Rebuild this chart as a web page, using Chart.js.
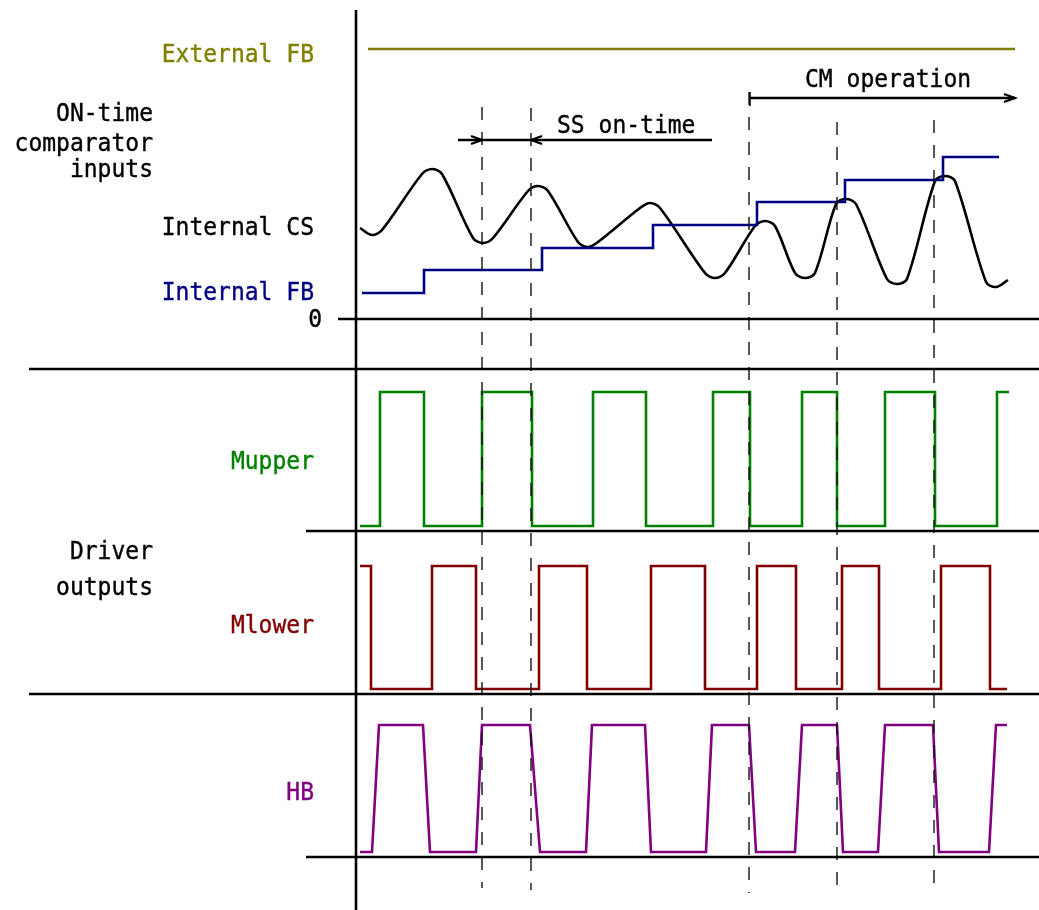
<!DOCTYPE html>
<html>
<head>
<meta charset="utf-8">
<script src="https://cdn.jsdelivr.net/npm/chart.js@4.4.0/dist/chart.umd.min.js"></script>
<style>
  html, body { margin: 0; padding: 0; background: #fff; }
  #wrap { width: 1039px; height: 910px; }
</style>
</head>
<body>
<div id="wrap"><canvas id="diagrama" width="1039" height="910"></canvas></div>
<script>
// tempo: 0 = eixo vertical do diagrama

// entradas do comparador de ON-time (altura acima da linha "0")
const externalFbTime = [12, 659];
const externalFbLevel = [270, 270];

const internalFbTime = [6, 68, 186, 297, 401, 489, 587, 643];
const internalFbLevel = [26, 49, 71, 94, 117, 139, 162, 162];

// rampa de corrente, com os ombros dos picos/vales
const internalCsTime = [4, 16, 26, 66, 76, 86, 117, 127, 137, 172, 182, 192,
  222, 232, 242, 284, 294, 304, 349, 359, 369, 399, 409, 419,
  439, 449, 459, 480, 490, 500, 531, 541, 551, 579, 589, 599, 630, 640, 652];
const internalCsLevel = [91, 84, 89, 145, 150, 145, 81, 76, 81, 128, 133, 128,
  77, 72, 77, 111, 116, 111, 46, 41, 46, 93, 98, 93,
  46, 41, 46, 115, 120, 115, 40, 35, 40, 138, 143, 138, 37, 32, 39];

// saidas do driver: instantes das bordas (nivel alterna a cada borda)
const mupperStart = [4, 0];
const mupperEdges = [24, 68, 126, 176, 237, 290, 357, 394, 446, 481, 529, 579, 641];
const mupperEnd = 653;

const mlowerStart = [4, 1];
const mlowerEdges = [15, 76, 120, 183, 231, 295, 349, 401, 440, 486, 523, 585, 634];
const mlowerEnd = 651;

// no do meio-ponte (bordas lentas)
const hbTime = [4, 16, 23, 67, 74, 120, 126, 174, 184, 230, 236, 289, 295, 350,
  356, 393, 400, 439, 446, 481, 487, 522, 529, 577, 583, 633, 640, 651];
const hbLevel = [0, 0, 1, 1, 0, 0, 1, 1, 0, 0, 1, 1, 0, 0,
  1, 1, 0, 0, 1, 1, 0, 0, 1, 1, 0, 0, 1, 1];

// linhas tracejadas verticais
const markerTimes = [126, 175, 393, 481, 578];

// setas de tempo
const ssArrow = { from: 102, to: 356, left: 126, right: 175 };
const cmArrow = { from: 394, to: 659 };

// ---- layout (unidades verticais da figura) ----
const rows = {
  analog: { base: 319, scale: 1 },
  mupper: { base: 526, scale: 134 },
  mlower: { base: 689, scale: 123 },
  hb: { base: 852, scale: 127 }
};
const markerTop = [107, 108, 92, 122, 120];
const markerBottom = [888, 890, 893, 893, 895];
const ssY = 140;
const cmY = 98;

const rotulos = [
  { text: 'External FB', t: -42, y: 62, color: '#808000' },
  { text: 'ON-time', t: -203, y: 121, color: '#000' },
  { text: 'comparator', t: -203, y: 151, color: '#000' },
  { text: 'inputs', t: -203, y: 177, color: '#000' },
  { text: 'Internal CS', t: -42, y: 235, color: '#000' },
  { text: 'Internal FB', t: -42, y: 300, color: '#000080' },
  { text: '0', t: -34, y: 327, color: '#000' },
  { text: 'SS on-time', t: 201, y: 133, color: '#000', align: 'left' },
  { text: 'CM operation', t: 449, y: 87, color: '#000', align: 'left' },
  { text: 'Mupper', t: -42, y: 469, color: '#008000' },
  { text: 'Driver', t: -203, y: 559, color: '#000' },
  { text: 'outputs', t: -203, y: 595, color: '#000' },
  { text: 'Mlower', t: -42, y: 633, color: '#800000' },
  { text: 'HB', t: -42, y: 800, color: '#800080' }
];

function nivel(row, v) {
  return rows[row].base - v * rows[row].scale;
}

function pontos(times, levels, row) {
  return times.map((t, i) => ({ x: t, y: nivel(row, levels[i]) }));
}

function degraus(start, edges, end, row) {
  let lv = start[1];
  const pts = [{ x: start[0], y: nivel(row, lv) }];
  edges.forEach(t => {
    lv = 1 - lv;
    pts.push({ x: t, y: nivel(row, lv) });
  });
  pts.push({ x: end, y: nivel(row, lv) });
  return pts;
}

const datasets = [];
function linha(points, color, width, extra) {
  datasets.push(Object.assign({
    data: points,
    borderColor: color,
    borderWidth: width,
    showLine: true,
    pointRadius: 0,
    fill: false,
    tension: 0,
    clip: false
  }, extra || {}));
}

// eixos e separadores
linha([{ x: 0, y: 10 }, { x: 0, y: 910 }], '#000', 2.6);
linha([{ x: -18, y: 319 }, { x: 683, y: 319 }], '#000', 2.6);
linha([{ x: -327, y: 369 }, { x: 683, y: 369 }], '#000', 2.6);
linha([{ x: -50, y: 531 }, { x: 683, y: 531 }], '#000', 2.6);
linha([{ x: -327, y: 694 }, { x: 683, y: 694 }], '#000', 2.6);
linha([{ x: -50, y: 857 }, { x: 683, y: 857 }], '#000', 2.6);

// tracejadas
markerTimes.forEach((t, i) => {
  linha([{ x: t, y: markerTop[i] }, { x: t, y: markerBottom[i] }], '#111', 1.4, { borderDash: [13, 12] });
});

// sinais
linha(pontos(externalFbTime, externalFbLevel, 'analog'), '#808000', 2.6);
linha(pontos(internalFbTime, internalFbLevel, 'analog'), '#000080', 2.6, { stepped: 'before' });
linha(pontos(internalCsTime, internalCsLevel, 'analog'), '#000', 2.6, { tension: 0.32 });
linha(degraus(mupperStart, mupperEdges, mupperEnd, 'mupper'), '#008000', 2.6, { stepped: 'before' });
linha(degraus(mlowerStart, mlowerEdges, mlowerEnd, 'mlower'), '#800000', 2.6, { stepped: 'before' });
linha(pontos(hbTime, hbLevel, 'hb'), '#800080', 2.6);

// setas
linha([{ x: ssArrow.from, y: ssY }, { x: ssArrow.to, y: ssY }], '#000', 2.4);
linha([{ x: cmArrow.from, y: cmY }, { x: cmArrow.to, y: cmY }], '#000', 2.4);
linha([{ x: cmArrow.from, y: cmY - 6 }, { x: cmArrow.from, y: cmY + 8 }], '#000', 1.6);

const anotacoes = {
  id: 'anotacoes',
  afterDatasetsDraw(chart) {
    const { ctx, scales: { x, y } } = chart;
    ctx.save();
    // pontas das setas
    const ponta = (t, yy, dir) => {
      const px = x.getPixelForValue(t);
      const py = y.getPixelForValue(yy);
      ctx.beginPath();
      ctx.moveTo(px - dir * 11, py - 4);
      ctx.lineTo(px, py);
      ctx.lineTo(px - dir * 11, py + 4);
      ctx.strokeStyle = '#000';
      ctx.lineWidth = 2.2;
      ctx.stroke();
    };
    ponta(ssArrow.left, ssY, 1);
    ponta(ssArrow.right, ssY, -1);
    ponta(cmArrow.to, cmY, 1);

    ctx.font = '25px "DejaVu Sans Mono", monospace';
    ctx.textBaseline = 'alphabetic';
    ctx.lineWidth = 0.4;
    rotulos.forEach(r => {
      ctx.save();
      ctx.translate(x.getPixelForValue(r.t), y.getPixelForValue(r.y));
      ctx.scale(0.92, 1);
      ctx.fillStyle = r.color;
      ctx.strokeStyle = r.color;
      ctx.textAlign = r.align || 'right';
      ctx.fillText(r.text, 0, 0);
      ctx.strokeText(r.text, 0, 0);
      ctx.restore();
    });
    ctx.restore();
  }
};

new Chart(document.getElementById('diagrama'), {
  type: 'scatter',
  data: { datasets },
  options: {
    responsive: false,
    devicePixelRatio: 1,
    animation: false,
    layout: { padding: 0 },
    plugins: { legend: { display: false }, tooltip: { enabled: false } },
    scales: {
      x: { type: 'linear', min: -356, max: 683, display: false },
      y: { type: 'linear', min: 0, max: 910, reverse: true, display: false }
    }
  },
  plugins: [anotacoes]
});
</script>
</body>
</html>
